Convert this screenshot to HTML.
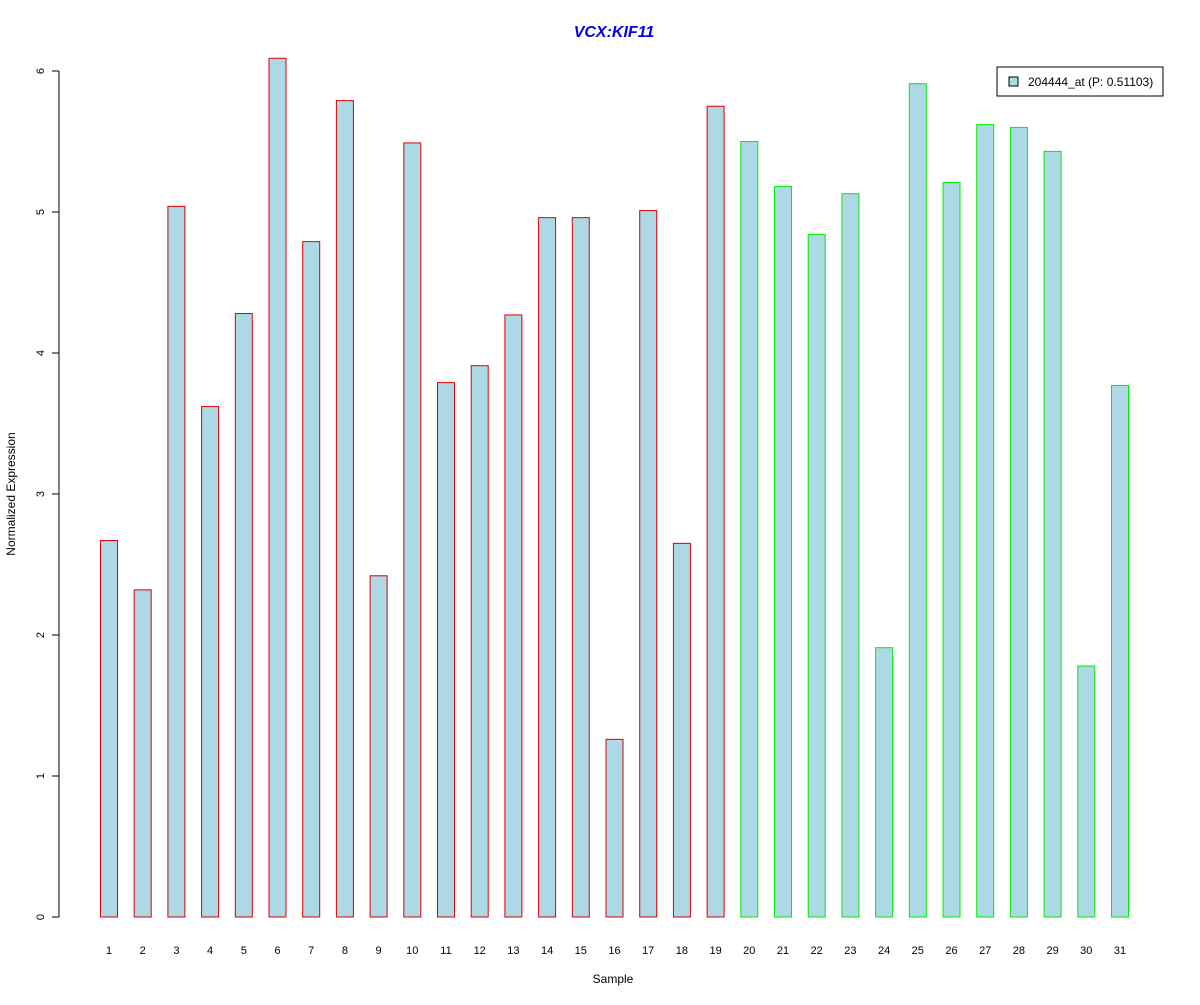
<!DOCTYPE html>
<html><head><meta charset="utf-8"><style>
body{margin:0;background:#fff;}
svg text{font-family:"Liberation Sans",Arial,sans-serif;}
</style></head><body>
<svg width="1200" height="1000" xmlns="http://www.w3.org/2000/svg">
<rect width="1200" height="1000" fill="#fff"/>
<text x="614" y="37" text-anchor="middle" font-size="16" font-weight="bold" font-style="italic" fill="#0000ee">VCX:KIF11</text>
<text x="613" y="983" text-anchor="middle" font-size="12">Sample</text>
<text transform="translate(15,494) rotate(-90)" text-anchor="middle" font-size="12">Normalized Expression</text>
<g id="yaxis"></g>
<g id="bars"></g>
<g id="xlabels"></g>
<g>
<rect x="997" y="67" width="166" height="29" fill="#fff" stroke="#000" stroke-width="1"/>
<rect x="1009" y="77" width="9" height="9" fill="#add8e6" stroke="#000"/>
<text x="1028" y="86" font-size="12">204444_at (P: 0.51103)</text>
</g>
</svg>
<script>
const categories=["1","2","3","4","5","6","7","8","9","10","11","12","13","14","15","16","17","18","19","20","21","22","23","24","25","26","27","28","29","30","31"];
const values=[2.67,2.32,5.04,3.62,4.28,6.09,4.79,5.79,2.42,5.49,3.79,3.91,4.27,4.96,4.96,1.26,5.01,2.65,5.75,5.50,5.18,4.84,5.13,1.91,5.91,5.21,5.62,5.60,5.43,1.78,3.77];
const groups=[0,0,0,0,0,0,0,0,0,0,0,0,0,0,0,0,0,0,0,1,1,1,1,1,1,1,1,1,1,1,1];
const yTicks=[0,1,2,3,4,5,6];
const NS="http://www.w3.org/2000/svg";
const y=v=>917-v*141;
const x=i=>100+i*33.7;
const bw=17;
const ya=document.getElementById('yaxis');
let ax=document.createElementNS(NS,'line');
ax.setAttribute('x1',59);ax.setAttribute('x2',59);ax.setAttribute('y1',y(0));ax.setAttribute('y2',y(6));ax.setAttribute('stroke','#000');


ya.appendChild(ax);
yTicks.forEach(t=>{
 const l=document.createElementNS(NS,'line');
 l.setAttribute('x1',52);l.setAttribute('x2',59);l.setAttribute('y1',y(t));l.setAttribute('y2',y(t));l.setAttribute('stroke','#000');
 
 
 ya.appendChild(l);
 const tx=document.createElementNS(NS,'text');
 tx.setAttribute('transform',`translate(44,${y(t)}) rotate(-90)`);tx.setAttribute('text-anchor','middle');tx.setAttribute('font-size','11');
 tx.textContent=t;
 
 
 ya.appendChild(tx);
});
const bg=document.getElementById('bars'),xl=document.getElementById('xlabels');
values.forEach((v,i)=>{
 const r=document.createElementNS(NS,'rect');
 r.setAttribute('x',x(i)+0.5);r.setAttribute('y',y(v));r.setAttribute('width',bw);r.setAttribute('height',y(0)-y(v));
 r.setAttribute('fill','#add8e6');r.setAttribute('stroke',groups[i]?'#00ee00':'#dd0000');
 
 
 bg.appendChild(r);
 const t=document.createElementNS(NS,'text');
 t.setAttribute('x',x(i)+bw/2+0.5);t.setAttribute('y',954);t.setAttribute('text-anchor','middle');t.setAttribute('font-size','11');
 t.textContent=categories[i];
 
 
 xl.appendChild(t);
});
</script>
</body></html>
